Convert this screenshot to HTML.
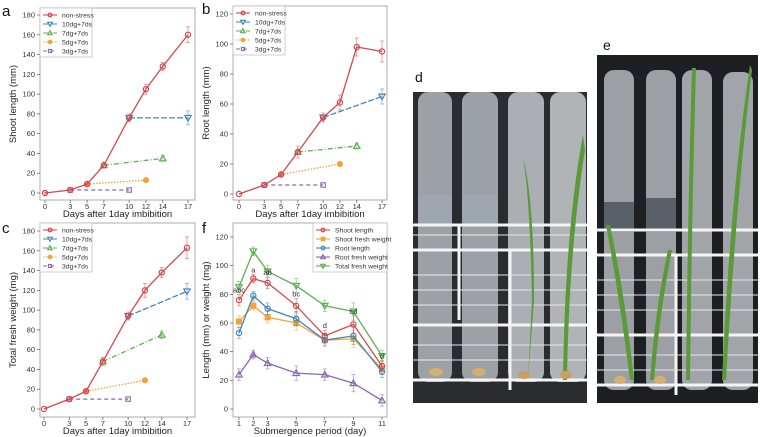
<!DOCTYPE html>
<html><head><meta charset="utf-8">
<style>
html,body{margin:0;padding:0;background:#fff;width:760px;height:437px;overflow:hidden}
svg{display:block;font-family:"Liberation Sans",sans-serif}
</style></head>
<body>
<svg id="fig" width="760" height="437" viewBox="0 0 760 437" xmlns="http://www.w3.org/2000/svg">
<g id="photos">
  <text x="415" y="82" font-size="14" fill="#111">d</text>
  <text x="603" y="50" font-size="14" fill="#111">e</text>
  <g>
    <rect x="413" y="92" width="174" height="311" fill="#2a2c30"/>
    <rect x="418" y="92" width="34" height="290" rx="10" fill="#a9aeb4" opacity="0.9"/>
    <rect x="462" y="92" width="36" height="290" rx="10" fill="#a9aeb4" opacity="0.9"/>
    <rect x="508" y="92" width="36" height="290" rx="10" fill="#b9bdc1" opacity="0.9"/>
    <rect x="550" y="92" width="36" height="290" rx="10" fill="#c0c3c6" opacity="0.9"/>
    <rect x="418" y="195" width="34" height="30" fill="#9ea6af"/>
    <rect x="462" y="195" width="36" height="30" fill="#9ea6af"/>
    <g stroke="#f4f4f4" stroke-width="3" fill="none">
      <line x1="413" y1="225" x2="587" y2="225"/><line x1="413" y1="250" x2="587" y2="250"/>
      <line x1="413" y1="325" x2="587" y2="325"/><line x1="413" y1="380" x2="587" y2="380"/>
      <line x1="510" y1="250" x2="510" y2="390"/><line x1="459" y1="225" x2="459" y2="320"/>
    </g>
    <g stroke="#e8e8e8" stroke-width="1.2" opacity="0.8">
      <line x1="413" y1="235" x2="587" y2="235"/><line x1="413" y1="275" x2="587" y2="275"/>
      <line x1="413" y1="290" x2="587" y2="290"/><line x1="413" y1="305" x2="587" y2="305"/>
      <line x1="413" y1="345" x2="587" y2="345"/><line x1="413" y1="360" x2="587" y2="360"/>
    </g>
    <path d="M523 157 Q530 200 532 300 L528 380 L534 300 Q534 200 523 157Z" fill="#5a9a3a"/>
    <path d="M583 135 Q565 230 563 380 L567 380 Q569 250 585 150Z" fill="#5a9a3a"/>
    <ellipse cx="436" cy="372" rx="7" ry="4" fill="#d4b070"/>
    <ellipse cx="479" cy="372" rx="7" ry="4" fill="#d4b070"/>
    <ellipse cx="524" cy="375" rx="6" ry="4" fill="#c8a060"/>
    <ellipse cx="566" cy="375" rx="6" ry="4" fill="#c8a060"/>
  </g>
  <g>
    <rect x="597" y="55" width="161" height="348" fill="#1e1f23"/>
    <rect x="604" y="70" width="30" height="320" rx="10" fill="#b3b7bc" opacity="0.85"/>
    <rect x="646" y="70" width="30" height="320" rx="10" fill="#b3b7bc" opacity="0.85"/>
    <rect x="682" y="70" width="30" height="320" rx="10" fill="#b8bcc0" opacity="0.85"/>
    <rect x="723" y="72" width="30" height="318" rx="10" fill="#b8bcc0" opacity="0.85"/>
    <rect x="604" y="202" width="30" height="30" fill="#5a6068"/>
    <rect x="646" y="198" width="30" height="34" fill="#5a6068"/>
    <g stroke="#f4f4f4" stroke-width="3" fill="none">
      <line x1="597" y1="230" x2="758" y2="230"/><line x1="597" y1="255" x2="758" y2="255"/>
      <line x1="597" y1="335" x2="758" y2="335"/><line x1="597" y1="385" x2="758" y2="385"/>
      <line x1="676" y1="255" x2="676" y2="395"/>
    </g>
    <g stroke="#e8e8e8" stroke-width="1.2" opacity="0.8">
      <line x1="597" y1="280" x2="758" y2="280"/><line x1="597" y1="295" x2="758" y2="295"/>
      <line x1="597" y1="310" x2="758" y2="310"/><line x1="597" y1="355" x2="758" y2="355"/>
      <line x1="597" y1="370" x2="758" y2="370"/>
    </g>
    <path d="M692 68 Q688 200 686 380 L690 380 Q692 200 696 68Z" fill="#5a9a3a"/>
    <path d="M750 65 Q730 200 722 380 L726 380 Q736 200 752 70Z" fill="#5a9a3a"/>
    <path d="M606 225 Q620 300 630 380 L634 380 Q626 300 610 225Z" fill="#5a9a3a"/>
    <path d="M668 250 Q655 310 650 380 L654 380 Q660 310 672 250Z" fill="#5a9a3a"/>
    <ellipse cx="620" cy="380" rx="6" ry="4" fill="#d4b070"/>
    <ellipse cx="660" cy="380" rx="6" ry="4" fill="#d4b070"/>
  </g>
</g>
</svg>
<script>
const days = [0,3,5,7,10,12,14,17];
const aNon = [0,3,9,28,76,105,128,160];
const aNonErr = [1,1,1,2,4,5,4,8];
const a10 = [76,76], a7 = [28,35], a5 = [9,13], a3 = [3,3];
const bNon = [0,6,13,28,51,61,98,95];
const bNonErr = [0,1,1,4,3,5,6,7];
const b10 = [51,65], b7 = [28,32], b5 = [13,20], b3 = [6,6];
const cNon = [0,10,18,48,94,120,138,163];
const cNonErr = [0,1,1,4,4,7,5,11];
const c10 = [94,119], c7 = [48,75], c5 = [18,29], c3 = [10,10];
const d10 = [10,17], d7 = [7,14], d5 = [5,12], d3 = [3,10];
const abcTicksA = [0,20,40,60,80,100,120,140,160,180];
const bTicks = [0,20,40,60,80,100,120];
const abcLegend = ["non-stress","10dg+7ds","7dg+7ds","5dg+7ds","3dg+7ds"];

const fDays = [1,2,3,5,7,9,11];
const fShootLen = [76,91,88,72,51,59,30];
const fShootFW = [61,72,64,60,48,49,28];
const fRootLen = [53,79,70,63,48,51,26];
const fRootFW = [24,38,32,25,24,18,6];
const fTotalFW = [85,110,96,86,72,68,37];
const fErr = [4,3,4,5,4,6,4];
const fLetters = ["abc","a","ab","bc","d","cd","d"];
const fTicks = [0,20,40,60,80,100,120];
const fLegend = ["Shoot length","Shoot fresh weight","Root length","Root fresh weight","Total fresh weight"];

const NS="http://www.w3.org/2000/svg";
const svg=document.getElementById('fig');
const RED="#d6474b",BLUE="#3f86bf",GREEN="#5bb04f",ORANGE="#f2a33a",PURPLE="#8a67b0";
function el(tag,attrs,parent){const e=document.createElementNS(NS,tag);for(const k in attrs)e.setAttribute(k,attrs[k]);(parent||svg).appendChild(e);return e;}
function marker(g,type,x,y,c,s){
  s=s||1;let m;
  if(type==='circle')m=el('circle',{cx:x,cy:y,r:2.6*s,fill:'none',stroke:c,'stroke-width':1.2},g);
  else if(type==='fcircle')m=el('circle',{cx:x,cy:y,r:2.6*s,fill:c,stroke:c},g);
  else if(type==='square')m=el('rect',{x:x-2.2*s,y:y-2.2*s,width:4.4*s,height:4.4*s,fill:'none',stroke:c,'stroke-width':1.1},g);
  else if(type==='fsquare')m=el('rect',{x:x-2.6*s,y:y-2.6*s,width:5.2*s,height:5.2*s,fill:c,stroke:c},g);
  else if(type==='up')m=el('path',{d:`M${x} ${y-3.2*s}L${x+3.2*s} ${y+2.4*s}L${x-3.2*s} ${y+2.4*s}Z`,fill:'none',stroke:c,'stroke-width':1.2},g);
  else m=el('path',{d:`M${x} ${y+3.2*s}L${x+3.2*s} ${y-2.4*s}L${x-3.2*s} ${y-2.4*s}Z`,fill:'none',stroke:c,'stroke-width':1.2},g);
  
  
}
function axes(P){
  const g=el('g',{});
  
  
  const fr=el('rect',{x:P.fx0,y:P.fy0,width:P.fx1-P.fx0,height:P.fy1-P.fy0,fill:'none',stroke:'#999','stroke-width':0.8},g);
  
  
  const X=v=>P.x0+(v-P.xmin)/(P.xmax-P.xmin)*(P.x1-P.x0);
  const Y=v=>P.y0-(v)/(P.ymax)*(P.y0-P.y1);
  P.yt.forEach(t=>{el('line',{x1:P.fx0-3,x2:P.fx0,y1:Y(t),y2:Y(t),stroke:'#555','stroke-width':0.7},g);
    const tx=el('text',{x:P.fx0-5,y:Y(t)+2.5,'font-size':7.5,'text-anchor':'end',fill:'#333'},g);tx.textContent=t;
    
    });
  P.xt.forEach(t=>{el('line',{x1:X(t),x2:X(t),y1:P.fy1,y2:P.fy1+3,stroke:'#555','stroke-width':0.7},g);
    const tx=el('text',{x:X(t),y:P.fy1+9,'font-size':7.5,'text-anchor':'middle',fill:'#333'},g);tx.textContent=t;
    
    });
  const xl=el('text',{x:(P.fx0+P.fx1)/2,y:P.fy1+17,'font-size':9.5,'text-anchor':'middle',fill:'#222'},g);xl.textContent=P.xlabel;
  
  
  const yx=P.fx0-24, yy=(P.fy0+P.fy1)/2;
  const yl=el('text',{x:yx,y:yy,'font-size':9.5,'text-anchor':'middle',fill:'#222',transform:`rotate(-90 ${yx} ${yy})`},g);yl.textContent=P.ylabel;
  
  
  const pl=el('text',{x:P.lx,y:P.ly,'font-size':15,fill:'#111'},g);pl.textContent=P.label;
  
  
  return {g,X,Y};
}
function series(A,xs,ys,errs,c,dash,mk,name){
  const g=el('g',{},A.g);
  
  
  const pts=xs.map((x,i)=>A.X(x)+','+A.Y(ys[i])).join(' ');
  el('polyline',{points:pts,fill:'none',stroke:c,'stroke-width':1.3,'stroke-dasharray':dash||'none'},g);
  xs.forEach((x,i)=>{const e=errs?errs[i]:0;
    if(e>0){const cx=A.X(x);el('line',{x1:cx,x2:cx,y1:A.Y(ys[i]+e),y2:A.Y(ys[i]-e),stroke:c,'stroke-width':0.7,opacity:0.7},g);
      el('line',{x1:cx-2,x2:cx+2,y1:A.Y(ys[i]+e),y2:A.Y(ys[i]+e),stroke:c,'stroke-width':0.7,opacity:0.7},g);
      el('line',{x1:cx-2,x2:cx+2,y1:A.Y(ys[i]-e),y2:A.Y(ys[i]-e),stroke:c,'stroke-width':0.7,opacity:0.7},g);}
    marker(g,mk,A.X(x),A.Y(ys[i]),c);});
}
function legend(A,x,y,w,items){
  const g=el('g',{},A.g);
  
  
  el('rect',{x:x,y:y,width:w,height:items.length*9+4,fill:'#fff',stroke:'#bbb','stroke-width':0.7},g);
  items.forEach((it,i)=>{const yy=y+7+i*9;
    const eg=el('g',{},g);
    
    
    el('line',{x1:x+3,x2:x+17,y1:yy,y2:yy,stroke:it[1],'stroke-width':1.1,'stroke-dasharray':it[2]||'none'},eg);
    marker(eg,it[3],x+10,yy,it[1],0.7);
    const t=el('text',{x:x+22,y:yy+2.5,'font-size':6.8,fill:'#333'},eg);t.textContent=it[0];});
}
const dashes=['none','6 2','5 2 1 2','1.5 1.5','4 3'];
const colsA=[RED,BLUE,GREEN,ORANGE,PURPLE];
const mksA=['circle','down','up','fcircle','square'];
function growthPanel(P,non,nonErr,t10,t7,t5,t3,t10e,t7e){
  const A=axes(P);
  series(A,d3,t3,null,PURPLE,dashes[4],'square','series-3dg');
  series(A,d5,t5,null,ORANGE,dashes[3],'fcircle','series-5dg');
  series(A,d7,t7,[0,t7e],GREEN,dashes[2],'up','series-7dg');
  series(A,d10,t10,[0,t10e],BLUE,dashes[1],'down','series-10dg');
  series(A,days,non,nonErr,RED,null,'circle','series-non-stress');
  legend(A,P.fx0,P.fy0,52,abcLegend.map((n,i)=>[n,colsA[i],dashes[i],mksA[i]]));
}
growthPanel({name:'chart-a',fx0:40,fx1:195,fy0:8,fy1:200,x0:45,x1:188,xmin:0,xmax:17,y0:193,y1:15,ymax:180,yt:abcTicksA,xt:days,
  xlabel:'Days after 1day imbibition',ylabel:'Shoot length (mm)',label:'a',lx:2,ly:16},aNon,aNonErr,a10,a7,a5,a3,7,3);
growthPanel({name:'chart-b',fx0:233,fx1:387,fy0:6,fy1:200,x0:239,x1:382,xmin:0,xmax:17,y0:194,y1:14,ymax:120,yt:bTicks,xt:days,
  xlabel:'Days after 1day imbibition',ylabel:'Root length (mm)',label:'b',lx:202,ly:14},bNon,bNonErr,b10,b7,b5,b3,5,2);
growthPanel({name:'chart-c',fx0:40,fx1:195,fy0:223,fy1:417,x0:44,x1:187,xmin:0,xmax:17,y0:409,y1:231,ymax:180,yt:abcTicksA,xt:days,
  xlabel:'Days after 1day imbibition',ylabel:'Total fresh weight (mg)',label:'c',lx:2,ly:233},cNon,cNonErr,c10,c7,c5,c3,8,4);

const F=axes({name:'chart-f',fx0:233,fx1:387,fy0:223,fy1:417,x0:239,x1:382,xmin:1,xmax:11,y0:409,y1:237,ymax:120,yt:fTicks,xt:fDays,
  xlabel:'Submergence period (day)',ylabel:'Length (mm) or weight (mg)',label:'f',lx:202,ly:233});
series(F,fDays,fRootFW,fErr,PURPLE,null,'up','series-root-fresh-weight');
series(F,fDays,fShootFW,fErr,ORANGE,null,'fsquare','series-shoot-fresh-weight');
series(F,fDays,fRootLen,fErr,BLUE,null,'circle','series-root-length');
series(F,fDays,fShootLen,fErr,RED,null,'circle','series-shoot-length');
series(F,fDays,fTotalFW,fErr,GREEN,null,'down','series-total-fresh-weight');
fLetters.forEach((l,i)=>{
  const t=el('text',{x:F.X(fDays[i]),y:F.Y(fShootLen[i]+fErr[i])-2,'font-size':7.5,'text-anchor':'middle',fill:'#333'},F.g);
  t.textContent=l;
  
  });
legend(F,313,223,74,fLegend.map((n,i)=>[n,[RED,ORANGE,BLUE,PURPLE,GREEN][i],'none',['circle','fsquare','circle','up','down'][i]]));
</script>
</body></html>
